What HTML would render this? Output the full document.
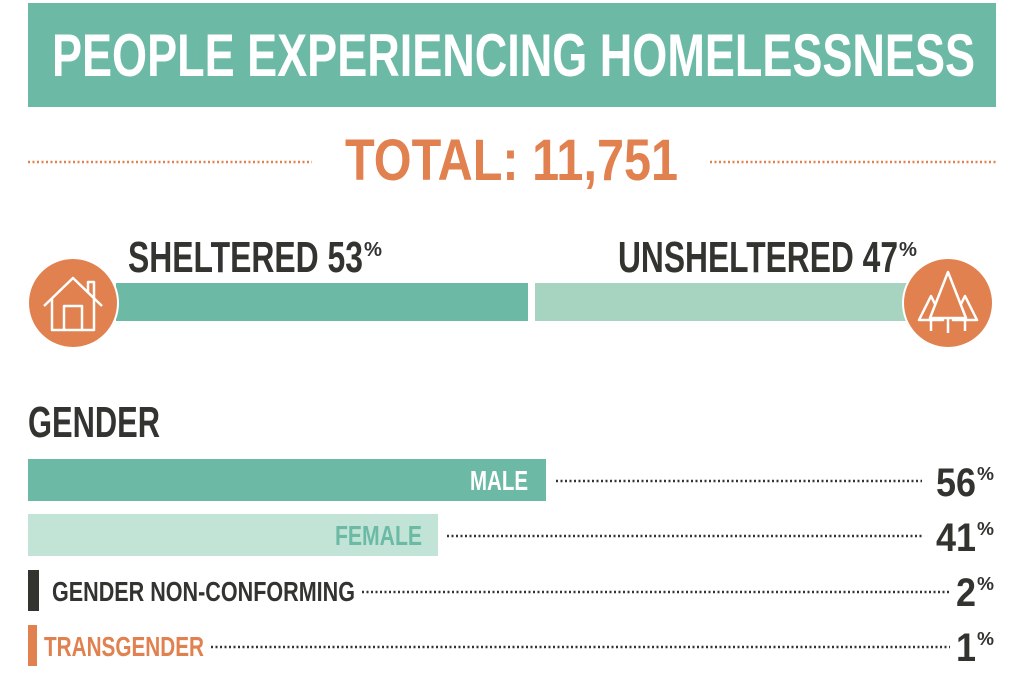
<!DOCTYPE html>
<html><head><meta charset="utf-8"><style>
html,body{margin:0;padding:0;background:#fff;}
svg{display:block;}
text{font-family:"Liberation Sans",sans-serif;font-weight:bold;}
</style></head><body>
<svg width="1024" height="682" viewBox="0 0 1024 682" xmlns="http://www.w3.org/2000/svg">
<rect x="28" y="3" width="968" height="104" fill="#6cbaa6"/>
<text x="52" y="76" font-size="60" fill="#fff" textLength="923" lengthAdjust="spacingAndGlyphs">PEOPLE EXPERIENCING HOMELESSNESS</text>
<line x1="28" y1="162" x2="312" y2="162" stroke="#e0814f" stroke-width="2.5" stroke-dasharray="2 2.5"/>
<line x1="710" y1="162" x2="996" y2="162" stroke="#e0814f" stroke-width="2.5" stroke-dasharray="2 2.5"/>
<text x="345" y="180" font-size="58" fill="#e0814f" textLength="333" lengthAdjust="spacingAndGlyphs">TOTAL: 11,751</text>

<text x="128" y="272" font-size="44" fill="#333330" textLength="235" lengthAdjust="spacingAndGlyphs">SHELTERED 53</text>
<text x="364" y="256" font-size="20" fill="#333330" textLength="18" lengthAdjust="spacingAndGlyphs">%</text>
<text x="618" y="272" font-size="44" fill="#333330" textLength="280" lengthAdjust="spacingAndGlyphs">UNSHELTERED 47</text>
<text x="899" y="256" font-size="20" fill="#333330" textLength="18" lengthAdjust="spacingAndGlyphs">%</text>
<rect x="116" y="283" width="412" height="38" fill="#6cbaa6"/>
<rect x="535" y="283" width="380" height="38" fill="#a6d4c0"/>
<circle cx="73" cy="303" r="45" fill="#e0814f" stroke="#fff" stroke-width="2"/>
<g fill="none" stroke="#fff" stroke-width="2.5" stroke-linejoin="round">
<path d="M44 306 L73 278 L102 306"/><path d="M52 298 V330 H94 V298"/><path d="M64 330 V306 H82 V330"/><path d="M88 292 V282 H94 V298"/>
</g>
<circle cx="948" cy="303" r="45" fill="#e0814f" stroke="#fff" stroke-width="2"/>
<g fill="#e0814f" stroke="#fff" stroke-width="2.5" stroke-linejoin="round">
<path d="M931 296 L919 320 H943 Z"/><path d="M965 296 L977 320 H953 Z"/>
<path d="M948 272 L930 318 H966 Z"/>
<path d="M948 318 V333 M931 320 V331 M965 320 V331" fill="none"/>
</g>

<text x="28" y="437" font-size="44" fill="#333330" textLength="132" lengthAdjust="spacingAndGlyphs">GENDER</text>

<rect x="28" y="459" width="518" height="42" fill="#6cbaa6"/>
<text x="470" y="490" font-size="28" fill="#fff" textLength="58" lengthAdjust="spacingAndGlyphs">MALE</text>
<line x1="556" y1="481" x2="922" y2="481" stroke="#333330" stroke-width="2.5" stroke-dasharray="2 2.5"/>
<text x="936" y="496" font-size="40" fill="#333330" textLength="40" lengthAdjust="spacingAndGlyphs">56</text>
<text x="977" y="480" font-size="18" fill="#333330" textLength="17" lengthAdjust="spacingAndGlyphs">%</text>

<rect x="28" y="514" width="410" height="42" fill="#c2e4d6"/>
<text x="335" y="545" font-size="28" fill="#6cbaa6" textLength="87" lengthAdjust="spacingAndGlyphs">FEMALE</text>
<line x1="447" y1="536" x2="922" y2="536" stroke="#333330" stroke-width="2.5" stroke-dasharray="2 2.5"/>
<text x="936" y="551" font-size="40" fill="#333330" textLength="40" lengthAdjust="spacingAndGlyphs">41</text>
<text x="977" y="535" font-size="18" fill="#333330" textLength="17" lengthAdjust="spacingAndGlyphs">%</text>

<rect x="28" y="570" width="11" height="41" fill="#333330"/>
<text x="52" y="601" font-size="28" fill="#333330" textLength="303" lengthAdjust="spacingAndGlyphs">GENDER NON-CONFORMING</text>
<line x1="362" y1="592" x2="950" y2="592" stroke="#333330" stroke-width="2.5" stroke-dasharray="2 2.5"/>
<text x="956" y="606" font-size="40" fill="#333330" textLength="20" lengthAdjust="spacingAndGlyphs">2</text>
<text x="977" y="590" font-size="18" fill="#333330" textLength="17" lengthAdjust="spacingAndGlyphs">%</text>

<rect x="28" y="625" width="9" height="41" fill="#e0814f"/>
<text x="44" y="656" font-size="28" fill="#e0814f" textLength="160" lengthAdjust="spacingAndGlyphs">TRANSGENDER</text>
<line x1="211" y1="647" x2="950" y2="647" stroke="#333330" stroke-width="2.5" stroke-dasharray="2 2.5"/>
<text x="956" y="661" font-size="40" fill="#333330" textLength="20" lengthAdjust="spacingAndGlyphs">1</text>
<text x="977" y="645" font-size="18" fill="#333330" textLength="17" lengthAdjust="spacingAndGlyphs">%</text>
</svg>
</body></html>
